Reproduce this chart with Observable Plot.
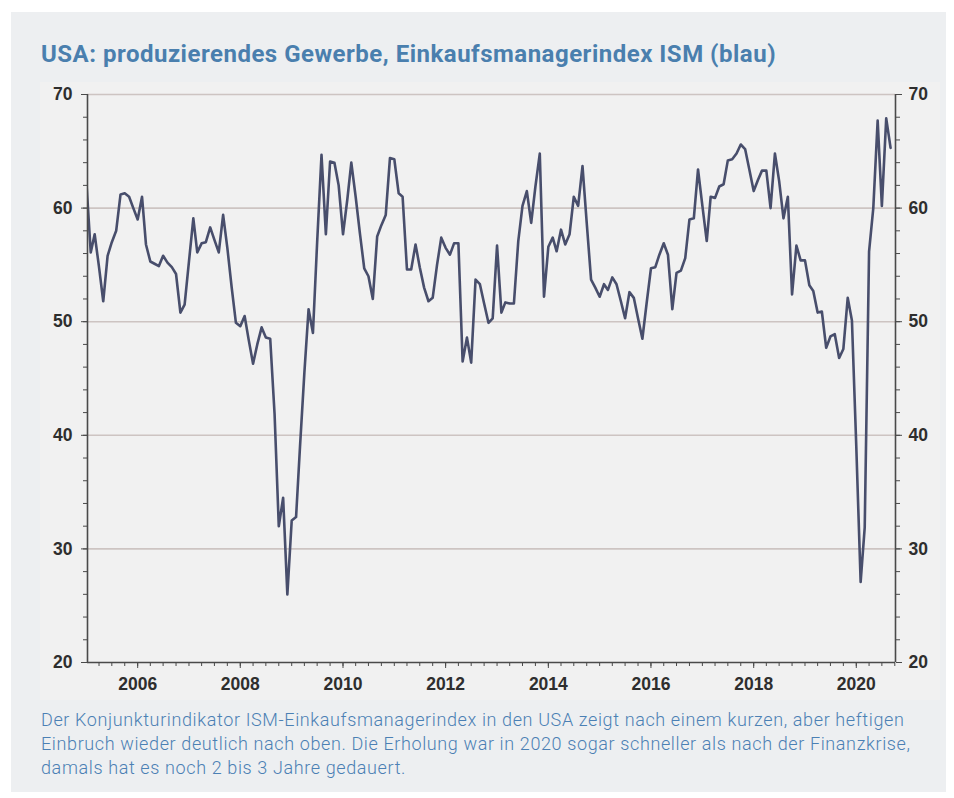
<!DOCTYPE html>
<html><head><meta charset="utf-8">
<script src="https://cdn.jsdelivr.net/npm/d3@7"></script>
<script src="https://cdn.jsdelivr.net/npm/@observablehq/plot@0.6"></script>
<style>
body{margin:0;background:#fff;}
#wrap{position:relative;width:954px;height:798px;overflow:hidden;}
#panel{position:absolute;left:11px;top:12px;width:935px;height:780px;background:#edeff1;}
#title{position:absolute;left:41px;top:42px;font:700 24px Roboto;letter-spacing:0.5px;color:#4a7fae;white-space:nowrap;line-height:24px;}
#chart{position:absolute;left:40px;top:82px;}
#caption{position:absolute;left:41px;top:708px;font:300 18px Roboto;letter-spacing:0.62px;color:#4b80b4;line-height:24px;white-space:nowrap;}
</style></head>
<body>
<div id="wrap">
<div id="panel"></div>
<div id="title">USA: produzierendes Gewerbe, Einkaufsmanagerindex ISM (blau)</div>
<div id="chart"></div>
<div id="caption">Der Konjunkturindikator ISM-Einkaufsmanagerindex in den USA zeigt nach einem kurzen, aber heftigen<br>Einbruch wieder deutlich nach oben. Die Erholung war in 2020 sogar schneller als nach der Finanzkrise,<br>damals hat es noch 2 bis 3 Jahre gedauert.</div>
</div>
<script>
// monthly values starting January 2005
const startMonth = [2005, 0];
const ismValues = [
62.3,56.1,57.7,54.8,51.8,55.8,57.0,58.0,61.2,61.3,61.0,60.0,
59.0,61.0,56.8,55.3,55.1,54.9,55.8,55.2,54.8,54.2,50.8,51.5,
55.3,59.1,56.1,56.9,57.0,58.3,57.2,56.1,59.4,56.5,53.0,49.9,
49.6,50.5,48.4,46.3,48.0,49.5,48.6,48.5,41.9,32.0,34.5,26.0,
32.5,32.8,39.0,45.5,51.1,49.0,57.0,64.7,57.7,64.1,64.0,62.0,
57.7,60.8,64.0,61.0,57.8,54.7,54.0,52.0,57.5,58.5,59.4,64.4,
64.3,61.3,61.0,54.6,54.6,56.8,54.8,53.0,51.8,52.1,55.0,57.4,
56.5,55.9,56.9,56.9,46.5,48.6,46.4,53.7,53.3,51.6,49.9,50.3,
56.7,50.8,51.7,51.6,51.6,57.1,60.2,61.5,58.7,61.9,64.8,52.2,
56.6,57.4,56.2,58.1,56.8,57.7,61.0,60.2,63.7,58.7,53.7,53.0,
52.2,53.3,52.8,53.9,53.3,51.8,50.3,52.6,52.1,50.3,48.5,51.6,
54.7,54.8,55.9,56.9,55.9,51.1,54.3,54.5,55.6,59.0,59.1,63.4,
60.2,57.1,61.0,60.9,61.9,62.1,64.2,64.3,64.8,65.6,65.2,63.4,
61.5,62.5,63.3,63.3,60.0,64.8,62.4,59.1,61.0,52.4,56.7,55.4,
55.4,53.2,52.7,50.8,50.9,47.7,48.7,48.9,46.8,47.6,52.1,50.1,
39.0,27.1,31.9,56.2,60.0,67.7,60.2,67.9,65.3
];
const yMajorTicks = [20, 30, 40, 50, 60, 70];
const gridLevels = [30, 40, 50, 60, 70];
const yearLabels = [2006, 2008, 2010, 2012, 2014, 2016, 2018, 2020];
const xStart = new Date(Date.UTC(2005, 0, 9));
const xEnd = new Date(Date.UTC(2020, 9, 6));

const t0 = new Date(Date.UTC(startMonth[0], startMonth[1], 1));
const data = ismValues.map((v, i) => ({date: d3.utcMonth.offset(t0, i), value: v}));
const yearTicks = yearLabels.map(y => new Date(Date.UTC(y, 0, 1)));
const quarterTicks = d3.utcMonth.every(3).range(xStart, xEnd);
const yMinor = d3.range(20, 71, 2);

const axisColor = "#4a4a4a";
const chart = Plot.plot({
  width: 900, height: 618,
  marginLeft: 47, marginRight: 45, marginTop: 12, marginBottom: 38,
  style: {background: "#f1f1f1", fontFamily: "'Liberation Sans', Arial, sans-serif", fontSize: "17.5px", fontWeight: 700, color: "#2e2e2e", overflow: "visible"},
  x: {type: "utc", domain: [xStart, xEnd]},
  y: {domain: [20, 70]},
  marks: [
    Plot.ruleY(gridLevels, {stroke: "#cdc4c2", strokeWidth: 1.6}),
    Plot.line(data, {x: "date", y: "value", stroke: "#484e6c", strokeWidth: 2.6, strokeLinejoin: "round", clip: true}),
    Plot.ruleX([xStart], {stroke: axisColor, strokeWidth: 1.6}),
    Plot.ruleX([xEnd], {stroke: axisColor, strokeWidth: 1.6}),
    Plot.ruleY([20], {stroke: axisColor, strokeWidth: 1.6}),
    Plot.axisY({anchor: "left", ticks: yMinor, tickSize: 4, tickFormat: () => "", stroke: axisColor, label: null}),
    Plot.axisY({anchor: "left", ticks: yMajorTicks, tickSize: 6, tickPadding: 9, stroke: axisColor, label: null}),
    Plot.axisY({anchor: "right", ticks: yMinor, tickSize: 4, tickFormat: () => "", stroke: axisColor, label: null}),
    Plot.axisY({anchor: "right", ticks: yMajorTicks, tickSize: 6, tickPadding: 7, stroke: axisColor, label: null}),
    Plot.axisX({ticks: quarterTicks, tickSize: 4, tickFormat: () => "", stroke: axisColor, label: null}),
    Plot.axisX({ticks: yearTicks, tickSize: 6, tickPadding: 9, tickFormat: d3.utcFormat("%Y"), stroke: axisColor, label: null})
  ]
});
document.getElementById("chart").appendChild(chart);
</script>
</body></html>
